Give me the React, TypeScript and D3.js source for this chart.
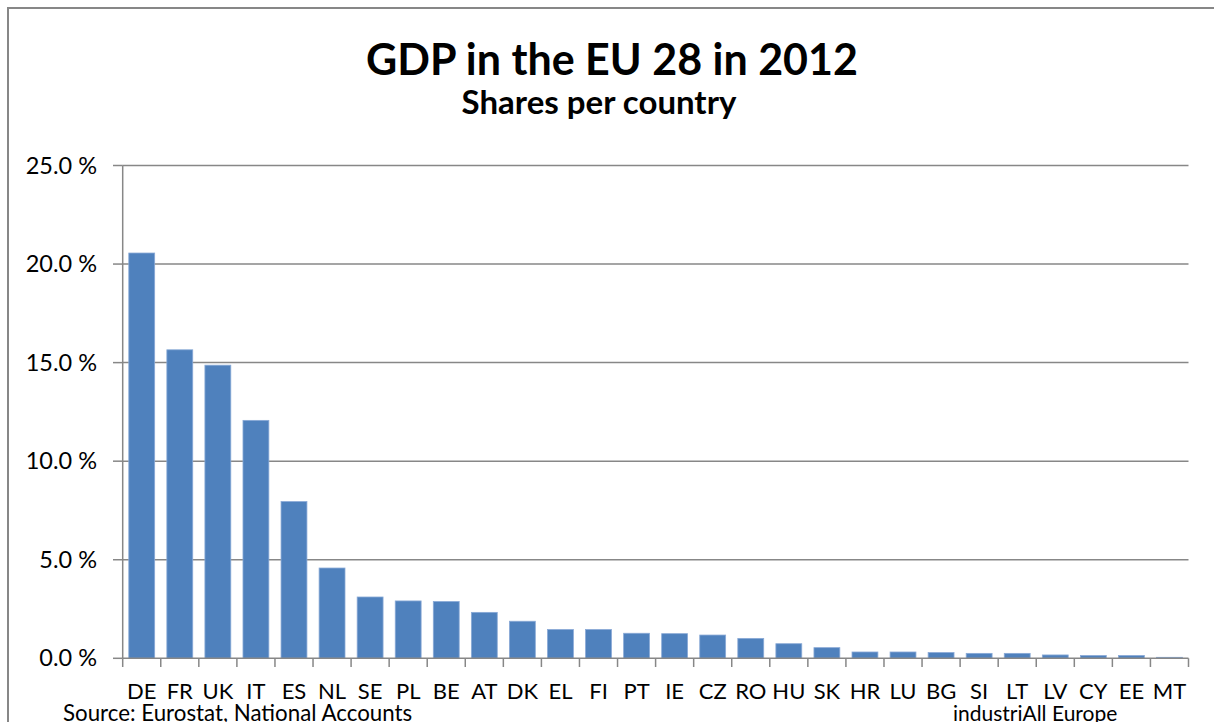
import React from "react";
import * as d3 from "d3";

const countries = ["DE","FR","UK","IT","ES","NL","SE","PL","BE","AT","DK","EL","FI","PT","IE","CZ","RO","HU","SK","HR","LU","BG","SI","LT","LV","CY","EE","MT"];
const shares = [20.56,15.65,14.87,12.07,7.95,4.58,3.11,2.91,2.88,2.33,1.88,1.46,1.46,1.27,1.25,1.18,1.01,0.74,0.54,0.32,0.32,0.29,0.25,0.25,0.17,0.14,0.14,0.05];
const yTicks = [0,5,10,15,20,25];

const W = 1214, H = 722;
const left = 122.7, right = 1188.5, top = 165.5, bottom = 658.3;
const FONT = "Lato, 'Open Sans', sans-serif";
const GRID = "#878787";

export default function App() {
  const x = d3.scaleBand<string>().domain(countries).range([left, right]).paddingInner(0.32).paddingOuter(0.16);
  const bandStep = (right - left) / countries.length;
  const y = d3.scaleLinear().domain([0, 25]).range([bottom, top]);
  const boundaries = d3.range(countries.length + 1).map(i => left + i * bandStep);
  return (
    <svg width={W} height={H} style={{ position: "absolute", left: 0, top: 0, background: "#fff" }} fontFamily={FONT}>
      <rect x={0} y={0} width={W} height={H} fill="#fff" />
      <rect x={8} y={8} width={W} height={H} fill="none" stroke={GRID} strokeWidth={2} />
      <text x={612} y={75} textAnchor="middle" fontSize={43} fontWeight={700} fill="#000">GDP in the EU 28 in 2012</text>
      <text x={599} y={114} textAnchor="middle" fontSize={33} fontWeight={700} fill="#000">Shares per country</text>
      {yTicks.map(t => (
        <g key={t}>
          {t > 0 && <line x1={left} x2={right} y1={y(t)} y2={y(t)} stroke={GRID} strokeWidth={1.5} />}
          <line x1={113} x2={left} y1={y(t)} y2={y(t)} stroke={GRID} strokeWidth={1.5} />
          <text x={97} y={y(t) + 8} textAnchor="end" fontSize={23.5} fill="#000">{t.toFixed(1)} %</text>
        </g>
      ))}
      {countries.map((c, i) => (
        <rect key={c} x={x(c)!} y={y(shares[i])} width={x.bandwidth()} height={bottom - y(shares[i])}
          fill="#4f81bd" stroke="#89a9d6" strokeWidth={0.8} />
      ))}
      <line x1={left} x2={left} y1={top} y2={bottom} stroke={GRID} strokeWidth={1.5} />
      <line x1={left} x2={right} y1={bottom} y2={bottom} stroke={GRID} strokeWidth={1.5} />
      {boundaries.map((b, i) => (
        <line key={i} x1={b} x2={b} y1={bottom} y2={667} stroke={GRID} strokeWidth={1.5} />
      ))}
      {countries.map(c => (
        <text key={c} x={x(c)! + x.bandwidth() / 2} y={699} textAnchor="middle" fontSize={22} fill="#000">{c}</text>
      ))}
      <text x={63} y={721} fontSize={22.3} fill="#000">Source: Eurostat, National Accounts</text>
      <text x={953} y={721} fontSize={21} fill="#000">industriAll Europe</text>
    </svg>
  );
}
